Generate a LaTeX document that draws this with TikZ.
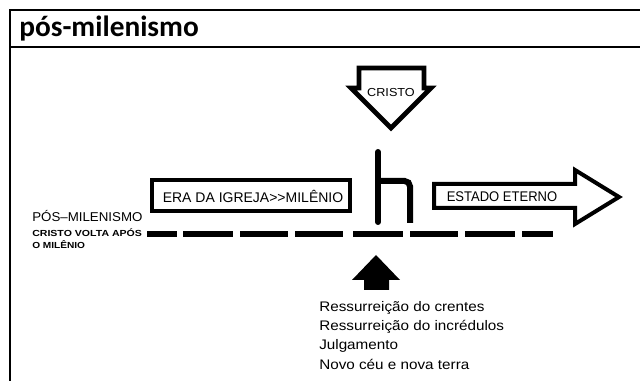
\documentclass[tikz,border=0pt]{standalone}
\usepackage{fontspec}
\setmainfont{Liberation Sans}
\newfontfamily\titlefont{Carlito}
\begin{document}
\begin{tikzpicture}[x=0.75pt,y=-0.75pt,
  frameline/.style={line width=1.6pt},
  outline/.style={line width=3pt, line join=miter},
  dashseg/.style={line width=3.9pt},
  hstroke/.style={line width=4.5pt},
  txt/.style={inner sep=0pt, anchor=base west},
  ctxt/.style={inner sep=0pt, anchor=base}]
\useasboundingbox (0,0) rectangle (640,381);
\fill[white] (0,0) rectangle (640,381);
% frame
\draw[frameline] (641,10) -- (10,10) -- (10,382);
\draw[frameline] (9,47) -- (641,47);
\node[txt, font=\titlefont\bfseries\fontsize{22}{22}\selectfont] (title) at (19,37) {pós-milenismo};
% CRISTO arrow
\draw[outline, line width=3.5pt] (359,68) -- (424,68) -- (424,88) -- (431,88) -- (391,128) -- (351,88) -- (359,88) -- cycle;
\node[ctxt, font=\fontsize{8.7}{9}\selectfont] (cristo) at (391,97) {\scalebox{1.09}[1]{CRISTO}};
% h symbol
\draw[hstroke, line cap=round] (378,152) -- (378,222);
\draw[hstroke, rounded corners=4pt] (378,181) -- (410,181) -- (410,223);
% era box
\draw[outline] (152,180) rectangle (350,211);
\node[ctxt, font=\fontsize{10.5}{11}\selectfont] (era) at (253,203) {ERA DA IGREJA>{}>MILÊNIO};
% estado eterno arrow
\draw[outline] (434,184) -- (575,184) -- (575,170) -- (619,197) -- (575,224) -- (575,208) -- (434,208) -- cycle;
\node[ctxt, font=\fontsize{10.5}{11}\selectfont] (estado) at (502,202) {\scalebox{0.93}[1]{ESTADO ETERNO}};
% dashed line
\foreach \a/\b in {147/177,183/233,240/288,295/343,353/403,410/458,465/515,522/553}
  \draw[dashseg] (\a,234) -- (\b,234);
% left labels
\node[txt, font=\fontsize{9.6}{10}\selectfont] (pos) at (32,222) {\scalebox{1.04}[1]{PÓS–MILENISMO}};
\node[txt, font=\bfseries\fontsize{6.6}{7}\selectfont] (volta) at (32,237) {\scalebox{1.2}[1]{CRISTO VOLTA APÓS}};
\node[txt, font=\bfseries\fontsize{6.6}{7}\selectfont] (mil) at (32,249) {\scalebox{1.15}[1]{O MILÊNIO}};
% up arrow
\fill (376,255) -- (400,280) -- (389,280) -- (389,290) -- (364,290) -- (364,280) -- (352,280) -- cycle;
% list
\node[txt, font=\fontsize{10.4}{10}\selectfont] (l1) at (319,312) {\scalebox{1.1}[1]{Ressurreição do crentes}};
\node[txt, font=\fontsize{10.4}{10}\selectfont] (l2) at (319,331) {\scalebox{1.1}[1]{Ressurreição do incrédulos}};
\node[txt, font=\fontsize{10.4}{10}\selectfont] (l3) at (319,350) {\scalebox{1.1}[1]{Julgamento}};
\node[txt, font=\fontsize{10.4}{10}\selectfont] (l4) at (319,369) {\scalebox{1.1}[1]{Novo céu e nova terra}};
\end{tikzpicture}
\end{document}
